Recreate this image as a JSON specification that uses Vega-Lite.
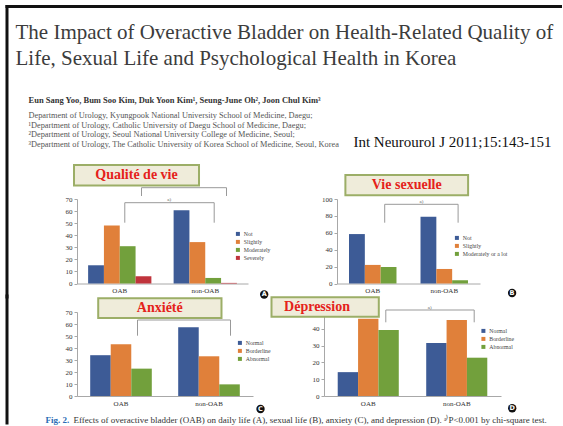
{
  "$schema": "https://vega.github.io/schema/vega-lite/v6.json",
  "background": "white",
  "padding": {"left": 4, "top": 4, "right": 0, "bottom": 0},
  "datasets": {
    "one": [{}],
    "qol": [
      {"group": "OAB", "level": "Not", "pct": 15.1},
      {"group": "OAB", "level": "Slightly", "pct": 48.0},
      {"group": "OAB", "level": "Moderately", "pct": 30.9},
      {"group": "OAB", "level": "Severely", "pct": 6.0},
      {"group": "non-OAB", "level": "Not", "pct": 60.6},
      {"group": "non-OAB", "level": "Slightly", "pct": 34.3},
      {"group": "non-OAB", "level": "Moderately", "pct": 4.6},
      {"group": "non-OAB", "level": "Severely", "pct": 0.5}
    ],
    "sex": [
      {"group": "OAB", "level": "Not", "pct": 58.5},
      {"group": "OAB", "level": "Slightly", "pct": 22.0},
      {"group": "OAB", "level": "Moderately or a lot", "pct": 19.5},
      {"group": "non-OAB", "level": "Not", "pct": 79.0},
      {"group": "non-OAB", "level": "Slightly", "pct": 17.2},
      {"group": "non-OAB", "level": "Moderately or a lot", "pct": 3.8}
    ],
    "anx": [
      {"group": "OAB", "level": "Normal", "pct": 34.0},
      {"group": "OAB", "level": "Borderline", "pct": 43.2},
      {"group": "OAB", "level": "Abnormal", "pct": 22.8},
      {"group": "non-OAB", "level": "Normal", "pct": 57.2},
      {"group": "non-OAB", "level": "Borderline", "pct": 33.1},
      {"group": "non-OAB", "level": "Abnormal", "pct": 9.7}
    ],
    "dep": [
      {"group": "OAB", "level": "Normal", "pct": 14.2},
      {"group": "OAB", "level": "Borderline", "pct": 46.0},
      {"group": "OAB", "level": "Abnormal", "pct": 39.3},
      {"group": "non-OAB", "level": "Normal", "pct": 31.6},
      {"group": "non-OAB", "level": "Borderline", "pct": 45.3},
      {"group": "non-OAB", "level": "Abnormal", "pct": 22.8}
    ]
  },
  "config": {
    "view": {"stroke": null},
    "font": "Liberation Serif",
    "axis": {"labelFont": "Liberation Serif", "labelColor": "#333", "domainColor": "#a8a8a8", "tickColor": "#a8a8a8", "grid": false},
    "legend": {"labelFont": "Liberation Serif", "labelFontSize": 5.8, "labelColor": "#444", "symbolType": "square", "symbolSize": 16, "symbolStrokeWidth": 0, "rowPadding": 1, "labelOffset": 3, "padding": 0, "orient": "none"},
    "text": {"font": "Liberation Serif"}
  },
  "spacing": -7,
  "resolve": {"scale": {"color": "independent", "xOffset": "independent"}},
  "vconcat": [
    {
      "hconcat": [
        {
          "width": 171,
          "height": 84.5,
          "layer": [
            {
              "data": {"name": "qol"},
              "mark": {"type": "bar", "width": {"band": 1}},
              "encoding": {
                "x": {"field": "group", "type": "nominal", "sort": ["OAB", "non-OAB"], "scale": {"paddingInner": 0.26, "paddingOuter": 0.13}, "axis": {"title": null, "labelAngle": 0, "ticks": false, "labelFontSize": 7, "labelPadding": 3}},
                "xOffset": {"field": "level", "type": "nominal", "sort": ["Not", "Slightly", "Moderately", "Severely"], "scale": {"paddingInner": 0, "paddingOuter": 0}},
                "y": {"field": "pct", "type": "quantitative", "scale": {"domain": [0, 70]}, "axis": {"title": null, "values": [0, 10, 20, 30, 40, 50, 60, 70], "labelFontSize": 7, "tickSize": 3, "labelPadding": 2}},
                "color": {"field": "level", "type": "nominal", "scale": {"domain": ["Not", "Slightly", "Moderately", "Severely"], "range": ["#3d5b96", "#e0803a", "#72a03c", "#c0343c"]}, "legend": {"title": null, "legendX": 158, "legendY": 32}}
              }
            },
            {
              "data": {"name": "one"},
              "layer": [
                {"mark": {"type": "rule", "color": "#111", "strokeWidth": 3, "strokeCap": "square"}, "encoding": {"x": {"datum": -0.4094, "type": "quantitative", "scale": {"domain": [0, 1]}, "axis": null}, "y": {"datum": 229.47, "type": "quantitative", "scale": {"domain": [0, 70]}, "axis": null}, "y2": {"datum": -11.18}}},
                {"mark": {"type": "rule", "color": "#111", "strokeWidth": 3, "strokeCap": "square"}, "encoding": {"x": {"datum": -0.4094, "type": "quantitative", "scale": {"domain": [0, 1]}, "axis": null}, "x2": {"datum": 2.8275}, "y": {"datum": 229.47, "type": "quantitative", "scale": {"domain": [0, 70]}, "axis": null}}},
                {"mark": {"type": "rule", "color": "#999", "strokeWidth": 1}, "encoding": {"x": {"datum": 0.2795, "type": "quantitative", "scale": {"domain": [0, 1]}, "axis": null}, "x2": {"datum": 0.8023}, "y": {"datum": 66.94, "type": "quantitative", "scale": {"domain": [0, 70]}, "axis": null}}},
                {"mark": {"type": "rule", "color": "#999", "strokeWidth": 1}, "encoding": {"x": {"datum": 0.2795, "type": "quantitative", "scale": {"domain": [0, 1]}, "axis": null}, "y": {"datum": 66.94, "type": "quantitative", "scale": {"domain": [0, 70]}, "axis": null}, "y2": {"datum": 50.37}}},
                {"mark": {"type": "rule", "color": "#999", "strokeWidth": 1}, "encoding": {"x": {"datum": 0.8023, "type": "quantitative", "scale": {"domain": [0, 1]}, "axis": null}, "y": {"datum": 66.94, "type": "quantitative", "scale": {"domain": [0, 70]}, "axis": null}, "y2": {"datum": 50.37}}},
                {"mark": {"type": "rule", "color": "#999", "strokeWidth": 1}, "encoding": {"x": {"datum": 0.3772, "type": "quantitative", "scale": {"domain": [0, 1]}, "axis": null}, "x2": {"datum": 0.8743}, "y": {"datum": 79.36, "type": "quantitative", "scale": {"domain": [0, 70]}, "axis": null}}},
                {"mark": {"type": "rule", "color": "#999", "strokeWidth": 1}, "encoding": {"x": {"datum": 0.3772, "type": "quantitative", "scale": {"domain": [0, 1]}, "axis": null}, "y": {"datum": 79.36, "type": "quantitative", "scale": {"domain": [0, 70]}, "axis": null}, "y2": {"datum": 72.49}}},
                {"mark": {"type": "rule", "color": "#999", "strokeWidth": 1}, "encoding": {"x": {"datum": 0.8743, "type": "quantitative", "scale": {"domain": [0, 1]}, "axis": null}, "y": {"datum": 79.36, "type": "quantitative", "scale": {"domain": [0, 70]}, "axis": null}, "y2": {"datum": 72.49}}},
                {"mark": {"type": "text", "text": "a)", "fontSize": 5, "color": "#666"}, "encoding": {"x": {"datum": 0.5392, "type": "quantitative", "scale": {"domain": [0, 1]}, "axis": null}, "y": {"datum": 70.25, "type": "quantitative", "scale": {"domain": [0, 70]}, "axis": null}}},
                {"mark": {"type": "rect", "fill": "#efecda", "stroke": "#9cae67", "strokeWidth": 2}, "encoding": {"x": {"datum": -0.0175, "type": "quantitative", "scale": {"domain": [0, 1]}, "axis": null}, "x2": {"datum": 0.7135}, "y": {"datum": 81.18, "type": "quantitative", "scale": {"domain": [0, 70]}, "axis": null}, "y2": {"datum": 98.17}}},
                {"mark": {"type": "text", "text": "Qualité de vie", "fontSize": 14, "fontWeight": "bold", "color": "#e5221b"}, "encoding": {"x": {"datum": 0.348, "type": "quantitative", "scale": {"domain": [0, 1]}, "axis": null}, "y": {"datum": 89.63, "type": "quantitative", "scale": {"domain": [0, 70]}, "axis": null}}},
                {"mark": {"type": "point", "shape": "circle", "filled": true, "color": "#111", "opacity": 1, "size": 70}, "encoding": {"x": {"datum": 1.0947, "type": "quantitative", "scale": {"domain": [0, 1]}, "axis": null}, "y": {"datum": -9.11, "type": "quantitative", "scale": {"domain": [0, 70]}, "axis": null}}},
                {"mark": {"type": "text", "text": "A", "fontSize": 6.5, "fontWeight": "bold", "color": "white", "font": "DejaVu Sans"}, "encoding": {"x": {"datum": 1.0947, "type": "quantitative", "scale": {"domain": [0, 1]}, "axis": null}, "y": {"datum": -9.11, "type": "quantitative", "scale": {"domain": [0, 70]}, "axis": null}}},
                {"mark": {"type": "text", "text": ["The Impact of Overactive Bladder on Health-Related Quality of", "Life, Sexual Life and Psychological Health in Korea"], "fontSize": 21, "lineHeight": 25.5, "align": "left", "baseline": "alphabetic", "color": "#3c3c3c"}, "encoding": {"x": {"datum": -0.3596, "type": "quantitative", "scale": {"domain": [0, 1]}, "axis": null}, "y": {"datum": 202.5, "type": "quantitative", "scale": {"domain": [0, 70]}, "axis": null}}},
                {"mark": {"type": "text", "text": "Eun Sang Yoo, Bum Soo Kim, Duk Yoon Kim¹, Seung-June Oh², Joon Chul Kim³", "fontSize": 8.5, "fontWeight": "bold", "align": "left", "baseline": "alphabetic", "color": "#333"}, "encoding": {"x": {"datum": -0.2836, "type": "quantitative", "scale": {"domain": [0, 1]}, "axis": null}, "y": {"datum": 149.5, "type": "quantitative", "scale": {"domain": [0, 70]}, "axis": null}}},
                {"mark": {"type": "text", "text": ["Department of Urology, Kyungpook National University School of Medicine, Daegu;", "¹Department of Urology, Catholic University of Daegu School of Medicine, Daegu;", "²Department of Urology, Seoul National University College of Medicine, Seoul;", "³Department of Urology, The Catholic University of Korea School of Medicine, Seoul, Korea"], "fontSize": 8.3, "lineHeight": 9.7, "align": "left", "baseline": "alphabetic", "color": "#555"}, "encoding": {"x": {"datum": -0.2836, "type": "quantitative", "scale": {"domain": [0, 1]}, "axis": null}, "y": {"datum": 137.1, "type": "quantitative", "scale": {"domain": [0, 70]}, "axis": null}}}
              ]
            }
          ],
          "resolve": {"scale": {"x": "independent", "y": "independent"}}
        },
        {
          "width": 143,
          "height": 84.5,
          "layer": [
            {
              "data": {"name": "sex"},
              "mark": {"type": "bar", "width": {"band": 1}},
              "encoding": {
                "x": {"field": "group", "type": "nominal", "sort": ["OAB", "non-OAB"], "scale": {"paddingInner": 0.336, "paddingOuter": 0.168}, "axis": {"title": null, "labelAngle": 0, "ticks": false, "labelFontSize": 7, "labelPadding": 3}},
                "xOffset": {"field": "level", "type": "nominal", "sort": ["Not", "Slightly", "Moderately or a lot"], "scale": {"paddingInner": 0, "paddingOuter": 0}},
                "y": {"field": "pct", "type": "quantitative", "scale": {"domain": [0, 100]}, "axis": {"title": null, "values": [0, 20, 40, 60, 80, 100], "labelFontSize": 7, "tickSize": 3, "labelPadding": 2}},
                "color": {"field": "level", "type": "nominal", "scale": {"domain": ["Not", "Slightly", "Moderately or a lot"], "range": ["#3d5b96", "#e0803a", "#72a03c"]}, "legend": {"title": null, "legendX": 117, "legendY": 36}}
              }
            },
            {
              "data": {"name": "one"},
              "layer": [
                {"mark": {"type": "rule", "color": "#999", "strokeWidth": 1}, "encoding": {"x": {"datum": 0.3336, "type": "quantitative", "scale": {"domain": [0, 1]}, "axis": null}, "x2": {"datum": 0.8469}, "y": {"datum": 93.73, "type": "quantitative", "scale": {"domain": [0, 100]}, "axis": null}}},
                {"mark": {"type": "rule", "color": "#999", "strokeWidth": 1}, "encoding": {"x": {"datum": 0.3336, "type": "quantitative", "scale": {"domain": [0, 1]}, "axis": null}, "y": {"datum": 93.73, "type": "quantitative", "scale": {"domain": [0, 100]}, "axis": null}, "y2": {"datum": 71.95}}},
                {"mark": {"type": "rule", "color": "#999", "strokeWidth": 1}, "encoding": {"x": {"datum": 0.8469, "type": "quantitative", "scale": {"domain": [0, 1]}, "axis": null}, "y": {"datum": 93.73, "type": "quantitative", "scale": {"domain": [0, 100]}, "axis": null}, "y2": {"datum": 71.95}}},
                {"mark": {"type": "text", "text": "a)", "fontSize": 5, "color": "#666"}, "encoding": {"x": {"datum": 0.5902, "type": "quantitative", "scale": {"domain": [0, 1]}, "axis": null}, "y": {"datum": 97.63, "type": "quantitative", "scale": {"domain": [0, 100]}, "axis": null}}},
                {"mark": {"type": "rect", "fill": "#efecda", "stroke": "#9cae67", "strokeWidth": 2}, "encoding": {"x": {"datum": 0.0587, "type": "quantitative", "scale": {"domain": [0, 1]}, "axis": null}, "x2": {"datum": 0.9168}, "y": {"datum": 104.38, "type": "quantitative", "scale": {"domain": [0, 100]}, "axis": null}, "y2": {"datum": 128.4}}},
                {"mark": {"type": "text", "text": "Vie sexuelle", "fontSize": 14, "fontWeight": "bold", "color": "#e5221b"}, "encoding": {"x": {"datum": 0.4874, "type": "quantitative", "scale": {"domain": [0, 1]}, "axis": null}, "y": {"datum": 116.33, "type": "quantitative", "scale": {"domain": [0, 100]}, "axis": null}}},
                {"mark": {"type": "point", "shape": "circle", "filled": true, "color": "#111", "opacity": 1, "size": 70}, "encoding": {"x": {"datum": 1.2245, "type": "quantitative", "scale": {"domain": [0, 1]}, "axis": null}, "y": {"datum": -11.24, "type": "quantitative", "scale": {"domain": [0, 100]}, "axis": null}}},
                {"mark": {"type": "text", "text": "B", "fontSize": 6.5, "fontWeight": "bold", "color": "white", "font": "DejaVu Sans"}, "encoding": {"x": {"datum": 1.2245, "type": "quantitative", "scale": {"domain": [0, 1]}, "axis": null}, "y": {"datum": -11.24, "type": "quantitative", "scale": {"domain": [0, 100]}, "axis": null}}},
                {"mark": {"type": "text", "text": "Int Neurourol J 2011;15:143-151", "fontSize": 15, "align": "left", "baseline": "alphabetic", "color": "#111"}, "encoding": {"x": {"datum": 0.1147, "type": "quantitative", "scale": {"domain": [0, 1]}, "axis": null}, "y": {"datum": 161.54, "type": "quantitative", "scale": {"domain": [0, 100]}, "axis": null}}}
              ]
            }
          ],
          "resolve": {"scale": {"x": "independent", "y": "independent"}}
        }
      ],
      "spacing": 89,
      "bounds": "flush",
      "resolve": {"scale": {"color": "independent", "xOffset": "independent"}}
    },
    {
      "hconcat": [
        {
          "width": 176,
          "height": 84,
          "layer": [
            {
              "data": {"name": "anx"},
              "mark": {"type": "bar", "width": {"band": 1}},
              "encoding": {
                "x": {"field": "group", "type": "nominal", "sort": ["OAB", "non-OAB"], "scale": {"paddingInner": 0.3, "paddingOuter": 0.15}, "axis": {"title": null, "labelAngle": 0, "ticks": false, "labelFontSize": 7, "labelPadding": 3}},
                "xOffset": {"field": "level", "type": "nominal", "sort": ["Normal", "Borderline", "Abnormal"], "scale": {"paddingInner": 0, "paddingOuter": 0}},
                "y": {"field": "pct", "type": "quantitative", "scale": {"domain": [0, 70]}, "axis": {"title": null, "values": [0, 10, 20, 30, 40, 50, 60, 70], "labelFontSize": 7, "tickSize": 3, "labelPadding": 2}},
                "color": {"field": "level", "type": "nominal", "scale": {"domain": ["Normal", "Borderline", "Abnormal"], "range": ["#3d5b96", "#e0803a", "#72a03c"]}, "legend": {"title": null, "legendX": 160, "legendY": 28}}
              }
            },
            {
              "data": {"name": "one"},
              "layer": [
                {"mark": {"type": "rule", "color": "#111", "strokeWidth": 3, "strokeCap": "square"}, "encoding": {"x": {"datum": -0.3977, "type": "quantitative", "scale": {"domain": [0, 1]}, "axis": null}, "y": {"datum": 83.33, "type": "quantitative", "scale": {"domain": [0, 70]}, "axis": null}, "y2": {"datum": -22.5}}},
                {"mark": {"type": "rule", "color": "#999", "strokeWidth": 1}, "encoding": {"x": {"datum": 0.3438, "type": "quantitative", "scale": {"domain": [0, 1]}, "axis": null}, "x2": {"datum": 0.8722}, "y": {"datum": 63.33, "type": "quantitative", "scale": {"domain": [0, 70]}, "axis": null}}},
                {"mark": {"type": "rule", "color": "#999", "strokeWidth": 1}, "encoding": {"x": {"datum": 0.3438, "type": "quantitative", "scale": {"domain": [0, 1]}, "axis": null}, "y": {"datum": 63.33, "type": "quantitative", "scale": {"domain": [0, 70]}, "axis": null}, "y2": {"datum": 50.25}}},
                {"mark": {"type": "rule", "color": "#999", "strokeWidth": 1}, "encoding": {"x": {"datum": 0.8722, "type": "quantitative", "scale": {"domain": [0, 1]}, "axis": null}, "y": {"datum": 63.33, "type": "quantitative", "scale": {"domain": [0, 70]}, "axis": null}, "y2": {"datum": 50.25}}},
                {"mark": {"type": "rect", "fill": "#efecda", "stroke": "#9cae67", "strokeWidth": 2}, "encoding": {"x": {"datum": 0.1205, "type": "quantitative", "scale": {"domain": [0, 1]}, "axis": null}, "x2": {"datum": 0.821}, "y": {"datum": 65, "type": "quantitative", "scale": {"domain": [0, 70]}, "axis": null}, "y2": {"datum": 81.42}}},
                {"mark": {"type": "text", "text": "Anxiété", "fontSize": 14, "fontWeight": "bold", "color": "#e5221b"}, "encoding": {"x": {"datum": 0.4705, "type": "quantitative", "scale": {"domain": [0, 1]}, "axis": null}, "y": {"datum": 73.17, "type": "quantitative", "scale": {"domain": [0, 70]}, "axis": null}}},
                {"mark": {"type": "point", "shape": "circle", "filled": true, "color": "#111", "opacity": 1, "size": 70}, "encoding": {"x": {"datum": 1.0426, "type": "quantitative", "scale": {"domain": [0, 1]}, "axis": null}, "y": {"datum": -10.83, "type": "quantitative", "scale": {"domain": [0, 70]}, "axis": null}}},
                {"mark": {"type": "text", "text": "C", "fontSize": 6.5, "fontWeight": "bold", "color": "white", "font": "DejaVu Sans"}, "encoding": {"x": {"datum": 1.0426, "type": "quantitative", "scale": {"domain": [0, 1]}, "axis": null}, "y": {"datum": -10.83, "type": "quantitative", "scale": {"domain": [0, 70]}, "axis": null}}},
                {"mark": {"type": "text", "text": "Fig. 2.", "fontSize": 9, "fontWeight": "bold", "align": "left", "baseline": "alphabetic", "color": "#2a6db5"}, "encoding": {"x": {"datum": -0.179, "type": "quantitative", "scale": {"domain": [0, 1]}, "axis": null}, "y": {"datum": -22.5, "type": "quantitative", "scale": {"domain": [0, 70]}, "axis": null}}},
                {"mark": {"type": "text", "text": "Effects of overactive bladder (OAB) on daily life (A), sexual life (B), anxiety (C), and depression (D). ᵃ⁾P<0.001 by chi-square test.", "fontSize": 9, "align": "left", "baseline": "alphabetic", "color": "#333"}, "encoding": {"x": {"datum": -0.0199, "type": "quantitative", "scale": {"domain": [0, 1]}, "axis": null}, "y": {"datum": -22.5, "type": "quantitative", "scale": {"domain": [0, 70]}, "axis": null}}}
              ]
            }
          ],
          "resolve": {"scale": {"x": "independent", "y": "independent"}}
        },
        {
          "width": 177,
          "height": 84,
          "layer": [
            {
              "data": {"name": "dep"},
              "mark": {"type": "bar", "width": {"band": 1}},
              "encoding": {
                "x": {"field": "group", "type": "nominal", "sort": ["OAB", "non-OAB"], "scale": {"paddingInner": 0.31, "paddingOuter": 0.155}, "axis": {"title": null, "labelAngle": 0, "ticks": false, "labelFontSize": 7, "labelPadding": 3}},
                "xOffset": {"field": "level", "type": "nominal", "sort": ["Normal", "Borderline", "Abnormal"], "scale": {"paddingInner": 0, "paddingOuter": 0}},
                "y": {"field": "pct", "type": "quantitative", "scale": {"domain": [0, 50]}, "axis": {"title": null, "values": [0, 10, 20, 30, 40], "labelFontSize": 7, "tickSize": 3, "labelPadding": 2}},
                "color": {"field": "level", "type": "nominal", "scale": {"domain": ["Normal", "Borderline", "Abnormal"], "range": ["#3d5b96", "#e0803a", "#72a03c"]}, "legend": {"title": null, "legendX": 156.5, "legendY": 16}}
              }
            },
            {
              "data": {"name": "one"},
              "layer": [
                {"mark": {"type": "rule", "color": "#999", "strokeWidth": 1}, "encoding": {"x": {"datum": 0.3492, "type": "quantitative", "scale": {"domain": [0, 1]}, "axis": null}, "x2": {"datum": 0.8486}, "y": {"datum": 51.19, "type": "quantitative", "scale": {"domain": [0, 50]}, "axis": null}}},
                {"mark": {"type": "rule", "color": "#999", "strokeWidth": 1}, "encoding": {"x": {"datum": 0.3492, "type": "quantitative", "scale": {"domain": [0, 1]}, "axis": null}, "y": {"datum": 51.19, "type": "quantitative", "scale": {"domain": [0, 50]}, "axis": null}, "y2": {"datum": 43.87}}},
                {"mark": {"type": "rule", "color": "#999", "strokeWidth": 1}, "encoding": {"x": {"datum": 0.8486, "type": "quantitative", "scale": {"domain": [0, 1]}, "axis": null}, "y": {"datum": 51.19, "type": "quantitative", "scale": {"domain": [0, 50]}, "axis": null}, "y2": {"datum": 43.87}}},
                {"mark": {"type": "text", "text": "a)", "fontSize": 5, "color": "#666"}, "encoding": {"x": {"datum": 0.5977, "type": "quantitative", "scale": {"domain": [0, 1]}, "axis": null}, "y": {"datum": 53.15, "type": "quantitative", "scale": {"domain": [0, 50]}, "axis": null}}},
                {"mark": {"type": "rect", "fill": "#efecda", "stroke": "#9cae67", "strokeWidth": 2}, "encoding": {"x": {"datum": -0.2966, "type": "quantitative", "scale": {"domain": [0, 1]}, "axis": null}, "x2": {"datum": 0.3096}, "y": {"datum": 47.2, "type": "quantitative", "scale": {"domain": [0, 50]}, "axis": null}, "y2": {"datum": 58.75}}},
                {"mark": {"type": "text", "text": "Dépression", "fontSize": 14, "fontWeight": "bold", "color": "#e5221b"}, "encoding": {"x": {"datum": -0.0395, "type": "quantitative", "scale": {"domain": [0, 1]}, "axis": null}, "y": {"datum": 52.98, "type": "quantitative", "scale": {"domain": [0, 50]}, "axis": null}}},
                {"mark": {"type": "point", "shape": "circle", "filled": true, "color": "#111", "opacity": 1, "size": 70}, "encoding": {"x": {"datum": 1.0633, "type": "quantitative", "scale": {"domain": [0, 1]}, "axis": null}, "y": {"datum": -7.32, "type": "quantitative", "scale": {"domain": [0, 50]}, "axis": null}}},
                {"mark": {"type": "text", "text": "D", "fontSize": 6.5, "fontWeight": "bold", "color": "white", "font": "DejaVu Sans"}, "encoding": {"x": {"datum": 1.0633, "type": "quantitative", "scale": {"domain": [0, 1]}, "axis": null}, "y": {"datum": -7.32, "type": "quantitative", "scale": {"domain": [0, 50]}, "axis": null}}}
              ]
            }
          ],
          "resolve": {"scale": {"x": "independent", "y": "independent"}}
        }
      ],
      "spacing": 71,
      "bounds": "flush",
      "resolve": {"scale": {"color": "independent", "xOffset": "independent"}}
    }
  ]
}
